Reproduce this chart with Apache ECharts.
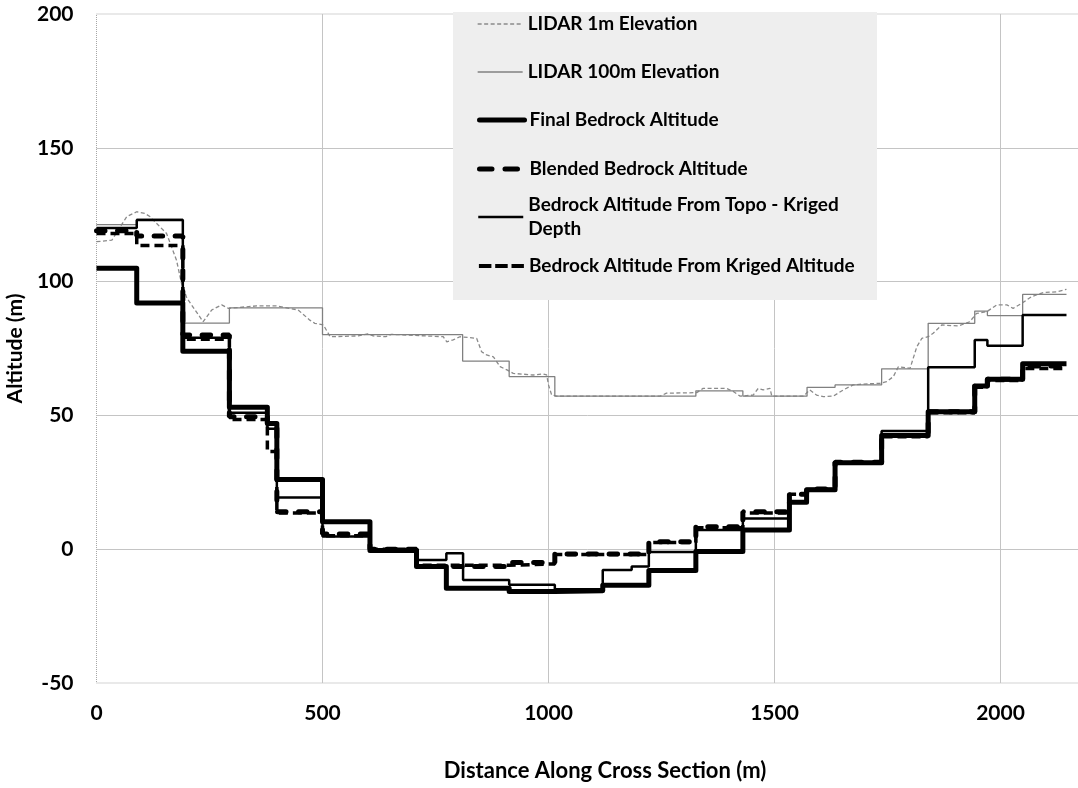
<!DOCTYPE html>
<html>
<head>
<meta charset="utf-8">
<title>Cross Section Altitude Profile</title>
<script src="https://cdn.jsdelivr.net/npm/echarts@6/dist/echarts.min.js"></script>
<style>
  html, body { margin: 0; padding: 0; background: #ffffff; }
  #chart { width: 1078px; height: 788px; }
</style>
</head>
<body>
<div id="chart"></div>
<script>
// Distance ticks (m) and altitude ticks (m)
const distanceTicks = [0, 500, 1000, 1500, 2000];
const altitudeTicks = [-50, 0, 50, 100, 150, 200];

// LIDAR 1m ground elevation profile
const lidar1mDist = [0, 34, 67, 89, 107, 118, 155, 177, 188, 200, 236, 255, 277, 292, 354, 399, 446, 472, 483, 502,
  517, 579, 600, 612, 640, 652, 767, 775, 789, 804, 841, 852, 863, 878, 893, 908, 922, 966, 988, 996,
  1000, 1007, 1018, 1247, 1261, 1328, 1342, 1394, 1408, 1424, 1453, 1464, 1475, 1490, 1494, 1564, 1578, 1593, 1608, 1630,
  1652, 1674, 1696, 1733, 1748, 1763, 1774, 1800, 1815, 1826, 1840, 1851, 1870, 1907, 1932, 1947, 1970, 1992, 2014, 2028,
  2047, 2069, 2095, 2124, 2146];
const lidar1mAlt = [114.9, 115.5, 124.3, 126.1, 125.5, 124.3, 118, 108, 99.4, 93.8, 85, 89.4, 91.3, 90, 90.9, 90.9, 89.4, 85.6, 84.4, 83.8,
  79.4, 79.7, 80.5, 79.7, 79.4, 80.3, 79.4, 77.5, 78.2, 79.4, 78.8, 73.8, 72.6, 71.9, 68.2, 67, 65.7, 65.1, 65.5, 65.1,
  61.4, 57.6, 57.2, 57.2, 58.3, 58.5, 60.1, 60.1, 59, 57.2, 57.6, 60.1, 59.5, 60.1, 57.2, 57.2, 59.5, 57.6, 57, 57.2,
  59.5, 61.4, 61.7, 62, 62.6, 64.5, 68.2, 67.6, 75.7, 78.8, 79.4, 80.7, 83.8, 83.4, 85, 88.1, 88.8, 91.3, 91.3, 90,
  91.9, 94.4, 95.9, 96.2, 97.1];

// LIDAR 100m elevation (step edges and level of each step)
const lidar100Edges = [0, 89, 191, 294, 500, 810, 913, 1014, 1326, 1430, 1572, 1634, 1737, 1840, 1943, 1971, 2049, 2146];
const lidar100Alt = [121.3, 123.3, 84.5, 90.2, 80.2, 70.3, 64.5, 57.2, 59.2, 57.2, 60.5, 61.4, 67.4, 84.4, 89, 87.3, 95.2];

// Final bedrock altitude
const finalEdges = [0, 89, 191, 294, 378, 399, 500, 605, 708, 774, 913, 1014, 1120, 1222, 1326, 1430, 1533, 1571, 1634, 1737, 1840, 1943, 1971, 2049, 2146];
const finalAlt = [105, 92, 74, 53, 47, 26, 10.3, -0.5, -6.5, -14.6, -15.8, -15.5, -13.5, -8, -0.9, 7.2, 17.5, 22.2, 32.3, 42.5, 51.4, 61, 63.5, 69.3];

// Blended bedrock altitude
const blendedEdges = [0, 89, 191, 294, 378, 399, 500, 605, 708, 913, 1014, 1222, 1326, 1430, 1533, 1571, 1634, 1737, 1840, 1943, 1971, 2049, 2146];
const blendedAlt = [119, 117, 80, 49.5, 47, 14, 5.7, 0, -6.5, -5, -1.8, 2.8, 8.4, 14, 20.5, 22.5, 32.5, 42.5, 51.4, 61, 63.5, 68.5];

// Bedrock altitude from topography minus kriged depth
const topoEdges = [0, 89, 191, 294, 378, 399, 500, 605, 708, 774, 811, 913, 1014, 1120, 1184, 1222, 1326, 1430, 1533, 1571, 1634, 1737, 1840, 1943, 1971, 2049, 2146];
const topoAlt = [120, 123, 79, 51, 45, 19.3, 4.7, 0, -4, -1.5, -11.5, -13.3, -15, -7.8, -6.5, -1, 7.2, 11.5, 17.5, 22.5, 32.5, 44.2, 68, 78.2, 76, 87.5];

// Bedrock altitude from kriged altitude
const krigedEdges = [0, 89, 191, 294, 378, 399, 500, 605, 708, 913, 1014, 1222, 1326, 1430, 1533, 1571, 1634, 1737, 1840, 1943, 1971, 2049, 2146];
const krigedAlt = [118, 113.5, 78.5, 48.5, 36.5, 13.5, 5, 0, -6, -5.5, -2, 2.5, 8, 13.5, 20.5, 22, 32.3, 42, 51, 60.5, 63, 67.5];

const seriesNames = [
  'LIDAR 1m Elevation',
  'LIDAR 100m Elevation',
  'Final Bedrock Altitude',
  'Blended Bedrock Altitude',
  'Bedrock Altitude From Topo - Kriged Depth',
  'Bedrock Altitude From Kriged Altitude'
];

// Turn step edges + levels into points for a step:'end' line
function stepPoints(edges, levels) {
  const pts = levels.map((v, i) => [edges[i], v]);
  pts.push([edges[edges.length - 1], levels[levels.length - 1]]);
  return pts;
}

const FONT = 'Lato, "Open Sans", sans-serif';
const legendText = {
  fontFamily: FONT, fontWeight: 'bold', fontSize: 19, color: '#000', lineHeight: 24
};

// one legend entry per block so each row can sit at its own height
function legendRow(name, centerY, lineStyle, extra) {
  return Object.assign({
    show: true,
    data: [name],
    left: 477,
    top: centerY - 12,
    orient: 'vertical',
    padding: 0,
    itemWidth: 45,
    itemHeight: 14,
    itemGap: 0,
    selectedMode: false,
    textStyle: Object.assign({}, legendText),
    lineStyle: lineStyle,
    itemStyle: { color: 'transparent', borderColor: 'transparent', borderWidth: 0, opacity: 0 },
    z: 5
  }, extra || {});
}

const chart = echarts.init(document.getElementById('chart'), null, { renderer: 'canvas' });

const option = {
  animation: false,
  backgroundColor: '#ffffff',
  grid: {
    show: true,
    left: 96.5,
    top: 14,
    width: 1017,
    bottom: 105,
    outerBoundsMode: 'none',
    containLabel: false,
    borderColor: '#a6a6a6',
    borderWidth: 1,
    borderType: 'dotted'
  },
  xAxis: {
    type: 'value',
    min: 0,
    max: 2250,
    interval: 500,
    name: 'Distance Along Cross Section (m)',
    nameLocation: 'middle',
    nameGap: 77,
    nameTextStyle: { fontFamily: FONT, fontWeight: 'bold', fontSize: 22, color: '#000' },
    axisLine: { show: false },
    axisTick: { show: false },
    axisLabel: {
      margin: 20,
      fontFamily: FONT, fontWeight: 'bold', fontSize: 21, color: '#000',
      formatter: v => (distanceTicks.indexOf(v) >= 0 ? String(v) : '')
    },
    splitLine: { show: true, showMinLine: false, showMaxLine: false, lineStyle: { color: '#c4c4c4', width: 1 } }
  },
  yAxis: {
    type: 'value',
    min: -50,
    max: 200,
    interval: 50,
    name: 'Altitude (m)',
    nameLocation: 'middle',
    nameGap: 62,
    nameTextStyle: { fontFamily: FONT, fontWeight: 'bold', fontSize: 21, color: '#000' },
    axisLine: { show: false },
    axisTick: { show: false },
    axisLabel: {
      margin: 23,
      fontFamily: FONT, fontWeight: 'bold', fontSize: 21, color: '#000',
      formatter: v => (altitudeTicks.indexOf(v) >= 0 ? String(v) : '')
    },
    splitLine: { show: true, showMinLine: false, showMaxLine: false, lineStyle: { color: '#c4c4c4', width: 1 } }
  },
  graphic: [{
    type: 'rect',
    z: 1,
    silent: true,
    shape: { x: 453, y: 12, width: 424, height: 288 },
    style: { fill: '#eeeeee' }
  }],
  legend: [
    legendRow(seriesNames[0], 24, { width: 1.3, type: [4, 2.5] }),
    legendRow(seriesNames[1], 72, { width: 1.3 }),
    legendRow(seriesNames[2], 120, { width: 5, cap: 'round' }),
    legendRow(seriesNames[3], 169, { width: 5, type: [12.5, 13], cap: 'round' }),
    legendRow(seriesNames[4], 217, { width: 2.5 }, {
      top: 217 - 36,
      formatter: () => 'Bedrock Altitude From Topo - Kriged\nDepth',
      textStyle: Object.assign({}, legendText, { padding: [24, 0, 0, 0] })
    }),
    legendRow(seriesNames[5], 266, { width: 3.8, type: [12.5, 3.8] })
  ],
  series: [
    {
      name: seriesNames[0],
      type: 'line',
      symbol: 'none',
      data: lidar1mDist.map((d, i) => [d, lidar1mAlt[i]]),
      lineStyle: { color: '#8a8a8a', width: 1.3, type: [4, 2.5] },
      itemStyle: { color: '#8a8a8a' },
      z: 2
    },
    {
      name: seriesNames[1],
      type: 'line',
      symbol: 'none',
      step: 'end',
      data: stepPoints(lidar100Edges, lidar100Alt),
      lineStyle: { color: '#808080', width: 1.3 },
      itemStyle: { color: '#808080' },
      z: 2
    },
    {
      name: seriesNames[2],
      type: 'line',
      symbol: 'none',
      step: 'end',
      data: stepPoints(finalEdges, finalAlt),
      lineStyle: { color: '#000000', width: 5, join: 'round' },
      itemStyle: { color: '#000000' },
      z: 3
    },
    {
      name: seriesNames[3],
      type: 'line',
      symbol: 'none',
      step: 'end',
      data: stepPoints(blendedEdges, blendedAlt),
      lineStyle: { color: '#000000', width: 5, type: [8.5, 12.5], cap: 'round' },
      itemStyle: { color: '#000000' },
      z: 3
    },
    {
      name: seriesNames[4],
      type: 'line',
      symbol: 'none',
      step: 'end',
      data: stepPoints(topoEdges, topoAlt),
      lineStyle: { color: '#000000', width: 2.5 },
      itemStyle: { color: '#000000' },
      z: 3
    },
    {
      name: seriesNames[5],
      type: 'line',
      symbol: 'none',
      step: 'end',
      data: stepPoints(krigedEdges, krigedAlt),
      lineStyle: { color: '#000000', width: 3.5, type: [9, 5] },
      itemStyle: { color: '#000000' },
      z: 3
    }
  ]
};

chart.setOption(option);
</script>
</body>
</html>
